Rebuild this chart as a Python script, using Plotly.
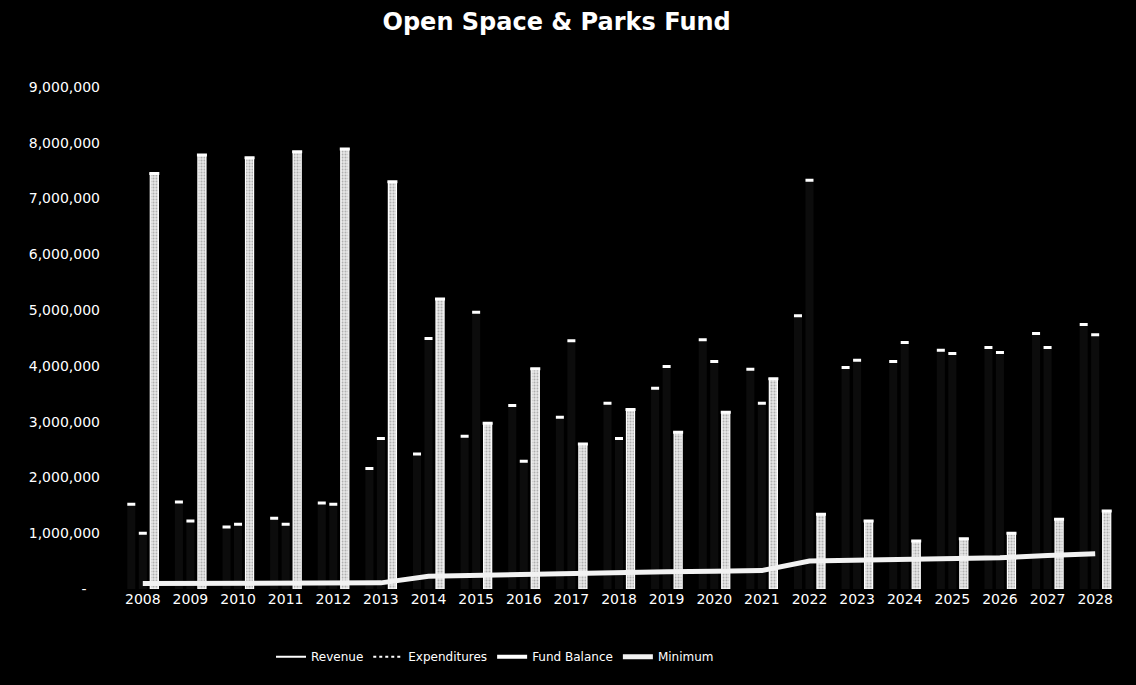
import plotly.graph_objects as go

years = [str(y) for y in range(2008, 2029)]
revenue = [1520000, 1560000, 1110000, 1270000, 1540000, 2160000, 2420000, 2740000, 3290000, 3080000,
           3330000, 3600000, 4470000, 3940000, 4900000, 3970000, 4080000, 4280000, 4330000, 4580000, 4740000]
expenditures = [1000000, 1220000, 1160000, 1160000, 1520000, 2700000, 4490000, 4960000, 2290000, 4450000,
                2700000, 3990000, 4080000, 3330000, 7330000, 4100000, 4420000, 4220000, 4240000, 4330000, 4560000]
fund_balance = [7450000, 7780000, 7730000, 7840000, 7890000, 7300000, 5200000, 2970000, 3950000, 2600000,
                3220000, 2810000, 3170000, 3770000, 1340000, 1220000, 860000, 900000, 1000000, 1250000, 1400000]
minimum = [100000, 100000, 100000, 100000, 100000, 110000, 230000, 250000, 260000, 270000,
           290000, 310000, 320000, 330000, 500000, 510000, 520000, 540000, 560000, 600000, 630000]
y_tickvals = [0, 1000000, 2000000, 3000000, 4000000, 5000000, 6000000, 7000000, 8000000, 9000000]
y_ticktext = ["-\u00a0\u00a0\u00a0", "1,000,000", "2,000,000", "3,000,000", "4,000,000", "5,000,000",
              "6,000,000", "7,000,000", "8,000,000", "9,000,000"]

FONT = "DejaVu Sans"

fig = go.Figure()
fig.add_trace(go.Bar(
    x=years, y=revenue, name="Revenue", showlegend=False,
    marker=dict(color="#0c0c0c", line=dict(width=0)),
    error_y=dict(type="constant", value=0, width=4, thickness=3, color="white"),
))
fig.add_trace(go.Bar(
    x=years, y=expenditures, name="Expenditures", showlegend=False,
    marker=dict(color="#0c0c0c", line=dict(width=0)),
    error_y=dict(type="constant", value=0, width=4, thickness=3, color="white"),
))
fig.add_trace(go.Bar(
    x=years, y=fund_balance, name="Fund Balance", showlegend=False,
    marker=dict(color="#d0d0d0", line=dict(color="white", width=1.2),
                pattern=dict(shape=".", fgcolor="#777777", bgcolor="#e6e6e6", size=3, solidity=0.35)),
    error_y=dict(type="constant", value=0, width=5, thickness=3, color="white"),
))
# legend entries
fig.add_trace(go.Scatter(x=[None], y=[None], mode="lines", name="Revenue",
                         line=dict(color="white", width=2)))
fig.add_trace(go.Scatter(x=[None], y=[None], mode="lines", name="Expenditures",
                         line=dict(color="white", width=2, dash="dot")))
fig.add_trace(go.Scatter(x=[None], y=[None], mode="lines", name="Fund Balance",
                         line=dict(color="white", width=4)))
fig.add_trace(go.Scatter(x=years, y=minimum, mode="lines", name="Minimum",
                         line=dict(color="#f2f2f2", width=5)))

fig.update_layout(
    width=1136, height=685,
    paper_bgcolor="black", plot_bgcolor="black",
    barmode="group", bargap=0.275, bargroupgap=0.3,
    margin=dict(l=119, r=17, t=87, b=96),
    title=dict(text="<b>Open Space &amp; Parks Fund</b>", x=0.49, xref="container", xanchor="center",
               y=0.968, yanchor="middle",
               font=dict(family=FONT, size=24, color="white")),
    font=dict(family=FONT, color="white"),
    showlegend=True,
    legend=dict(orientation="h", x=0.376, xanchor="center", y=-0.135, yanchor="middle",
                font=dict(family=FONT, size=12, color="white"), bgcolor="rgba(0,0,0,0)",
                traceorder="normal"),
    xaxis=dict(type="category", showgrid=False, zeroline=False, showline=False,
               tickfont=dict(family=FONT, size=14, color="white"), ticks=""),
    yaxis=dict(range=[0, 9000000], tickvals=y_tickvals, ticktext=y_ticktext,
               showgrid=False, zeroline=False, showline=False, ticks="",
               ticklabelstandoff=18,
               tickfont=dict(family=FONT, size=14, color="white")),
)

fig.write_html("out.html")
